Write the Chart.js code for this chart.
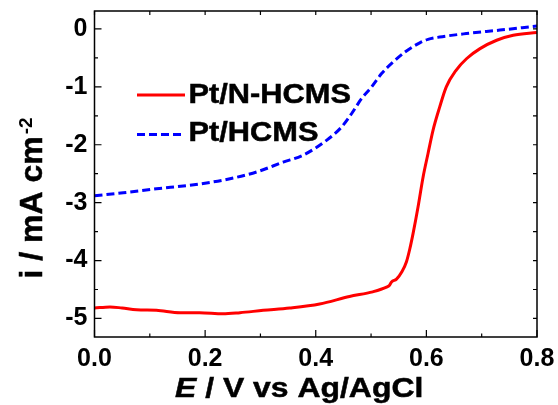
<!DOCTYPE html>
<html>
<head>
<meta charset="utf-8">
<script src="https://cdn.jsdelivr.net/npm/chart.js@4.4.1/dist/chart.umd.min.js"></script>
<style>
html,body{margin:0;padding:0;background:#fff;}
#wrap{width:558px;height:405px;position:relative;}
</style>
</head>
<body>
<div id="wrap"><canvas id="c" width="558" height="405"></canvas></div>
<script>
// ---- data ----
const seriesNames = ['Pt/N-HCMS', 'Pt/HCMS'];

const ptNHcmsE = [0.000,0.028,0.050,0.076,0.112,0.155,0.190,0.232,0.263,0.305,0.353,0.407,0.461,0.503,0.528,0.533,0.537,0.546,0.556,0.564,0.570,0.576,0.585,0.594,0.603,0.612,0.624,0.636,0.654,0.673,0.697,0.727,0.757,0.800];
const ptNHcmsI = [-4.82,-4.80,-4.82,-4.85,-4.86,-4.90,-4.90,-4.92,-4.90,-4.86,-4.82,-4.75,-4.62,-4.54,-4.46,-4.43,-4.37,-4.32,-4.19,-4.02,-3.80,-3.53,-3.07,-2.56,-2.15,-1.75,-1.35,-1.00,-0.71,-0.51,-0.34,-0.195,-0.11,-0.06];

const ptHcmsE = [0.000,0.052,0.112,0.172,0.233,0.293,0.341,0.377,0.420,0.447,0.465,0.483,0.501,0.519,0.540,0.564,0.588,0.603,0.624,0.672,0.733,0.800];
const ptHcmsI = [-2.88,-2.83,-2.76,-2.70,-2.61,-2.47,-2.30,-2.18,-1.92,-1.69,-1.46,-1.20,-1.00,-0.77,-0.57,-0.38,-0.24,-0.18,-0.14,-0.08,-0.02,0.05];

const xTicks = [0.0, 0.2, 0.4, 0.6, 0.8];
const yTicks = [-5, -4, -3, -2, -1, 0];
const xMinor = [0.1, 0.3, 0.5, 0.7];
const yMinor = [-4.5, -3.5, -2.5, -1.5, -0.5];

const xTitleItalic = 'E';
const xTitleRest = ' / V vs Ag/AgCl';
const yTitleMain = 'i / mA cm';
const yTitleSup = '-2';

const FONT = '"Liberation Sans", Arial, Helvetica, sans-serif';

function pts(xs, ys){ return xs.map((x,i)=>({x:x, y:ys[i]})); }

const decor = {
  id: 'decor',
  afterDraw(chart){
    const ctx = chart.ctx;
    const a = chart.chartArea;
    const xs = chart.scales.x, ys = chart.scales.y;
    ctx.save();
    // frame
    ctx.strokeStyle = '#000';
    ctx.lineWidth = 1.5;
    ctx.strokeRect(a.left, a.top, a.right - a.left, a.bottom - a.top);
    ctx.lineWidth = 1.2;
    ctx.beginPath();
    xTicks.forEach(v=>{ const p = xs.getPixelForValue(v);
      ctx.moveTo(p, a.bottom); ctx.lineTo(p, a.bottom - 7);
      ctx.moveTo(p, a.top); ctx.lineTo(p, a.top + 4); });
    xMinor.forEach(v=>{ const p = xs.getPixelForValue(v);
      ctx.moveTo(p, a.bottom); ctx.lineTo(p, a.bottom - 3.5);
      ctx.moveTo(p, a.top); ctx.lineTo(p, a.top + 4); });
    yTicks.forEach(v=>{ const p = ys.getPixelForValue(v);
      ctx.moveTo(a.left, p); ctx.lineTo(a.left + 7, p);
      ctx.moveTo(a.right, p); ctx.lineTo(a.right - 4, p); });
    yMinor.forEach(v=>{ const p = ys.getPixelForValue(v);
      ctx.moveTo(a.left, p); ctx.lineTo(a.left + 3.5, p);
      ctx.moveTo(a.right, p); ctx.lineTo(a.right - 4, p); });
    ctx.stroke();

    // legend
    const ds = chart.data.datasets;
    const legY = [95, 134.5];
    const legTextY = [103.3, 141.3];
    ds.forEach((d, i)=>{
      ctx.save();
      ctx.strokeStyle = d.borderColor;
      ctx.lineWidth = d.borderWidth;
      ctx.setLineDash(d.borderDash || []);
      ctx.beginPath();
      ctx.moveTo(137, legY[i]); ctx.lineTo(185, legY[i]);
      ctx.stroke();
      ctx.restore();
      ctx.save();
      ctx.fillStyle = '#000';
      ctx.strokeStyle = '#000';
      ctx.lineWidth = 0.5;
      ctx.font = 'bold 28px ' + FONT;
      ctx.textBaseline = 'alphabetic';
      ctx.textAlign = 'left';
      ctx.translate(188.5, legTextY[i]);
      ctx.scale(1.1, 1);
      ctx.fillText(d.label, 0, 0);
      ctx.strokeText(d.label, 0, 0);
      ctx.restore();
    });

    // x title
    ctx.save();
    ctx.fillStyle = '#000';
    ctx.strokeStyle = '#000';
    ctx.lineWidth = 0.5;
    ctx.textBaseline = 'alphabetic';
    ctx.translate(175, 397.3);
    ctx.scale(1.14, 1);
    ctx.font = 'italic bold 28px ' + FONT;
    ctx.fillText(xTitleItalic, 0, 0);
    ctx.strokeText(xTitleItalic, 0, 0);
    const w = ctx.measureText(xTitleItalic).width;
    ctx.font = 'bold 28px ' + FONT;
    ctx.fillText(xTitleRest, w, 0);
    ctx.strokeText(xTitleRest, w, 0);
    ctx.restore();

    // y title
    ctx.save();
    ctx.fillStyle = '#000';
    ctx.strokeStyle = '#000';
    ctx.lineWidth = 0.5;
    ctx.textBaseline = 'alphabetic';
    ctx.translate(41.7, 278.5);
    ctx.rotate(-Math.PI/2);
    ctx.font = 'bold 32px ' + FONT;
    ctx.fillText(yTitleMain, 0, 0);
    ctx.strokeText(yTitleMain, 0, 0);
    const wm = ctx.measureText(yTitleMain).width;
    ctx.font = 'bold 19px ' + FONT;
    ctx.fillText(yTitleSup, wm + 2, -10);
    ctx.restore();

    ctx.restore();
  }
};

new Chart(document.getElementById('c'), {
  type: 'line',
  data: {
    datasets: [
      { label: seriesNames[0], data: pts(ptNHcmsE, ptNHcmsI), borderColor: '#ff0000', borderWidth: 3,
        pointRadius: 0, fill: false, tension: 0.3, cubicInterpolationMode: 'monotone' },
      { label: seriesNames[1], data: pts(ptHcmsE, ptHcmsI), borderColor: '#0000ff', borderWidth: 3,
        borderDash: [8, 4], pointRadius: 0, fill: false, tension: 0.3, cubicInterpolationMode: 'monotone' }
    ]
  },
  options: {
    responsive: false,
    animation: false,
    events: [],
    layout: { padding: { top: 11, right: 21, left: 0, bottom: 0 } },
    plugins: { legend: { display: false }, tooltip: { enabled: false }, title: { display: false } },
    scales: {
      x: {
        type: 'linear', min: 0, max: 0.8,
        afterBuildTicks(s){ s.ticks = xTicks.map(v=>({value:v})); },
        afterFit(s){ s.height = 68; s.paddingLeft = 0; s.paddingRight = 0; },
        grid: { display: false, drawTicks: false },
        border: { display: false },
        ticks: { color: '#000', padding: 7, maxRotation: 0,
          font: { family: FONT, size: 25, weight: 'bold' },
          callback: v => Number(v).toFixed(1) }
      },
      y: {
        type: 'linear', min: -5.32, max: 0.31,
        afterBuildTicks(s){ s.ticks = yTicks.map(v=>({value:v})); },
        afterFit(s){ s.width = 94.5; s.paddingTop = 0; s.paddingBottom = 0; },
        grid: { display: false, drawTicks: false },
        border: { display: false },
        ticks: { color: '#000', padding: 7,
          font: { family: FONT, size: 25, weight: 'bold' },
          callback: v => String(v) }
      }
    }
  },
  plugins: [decor]
});
</script>
</body>
</html>
